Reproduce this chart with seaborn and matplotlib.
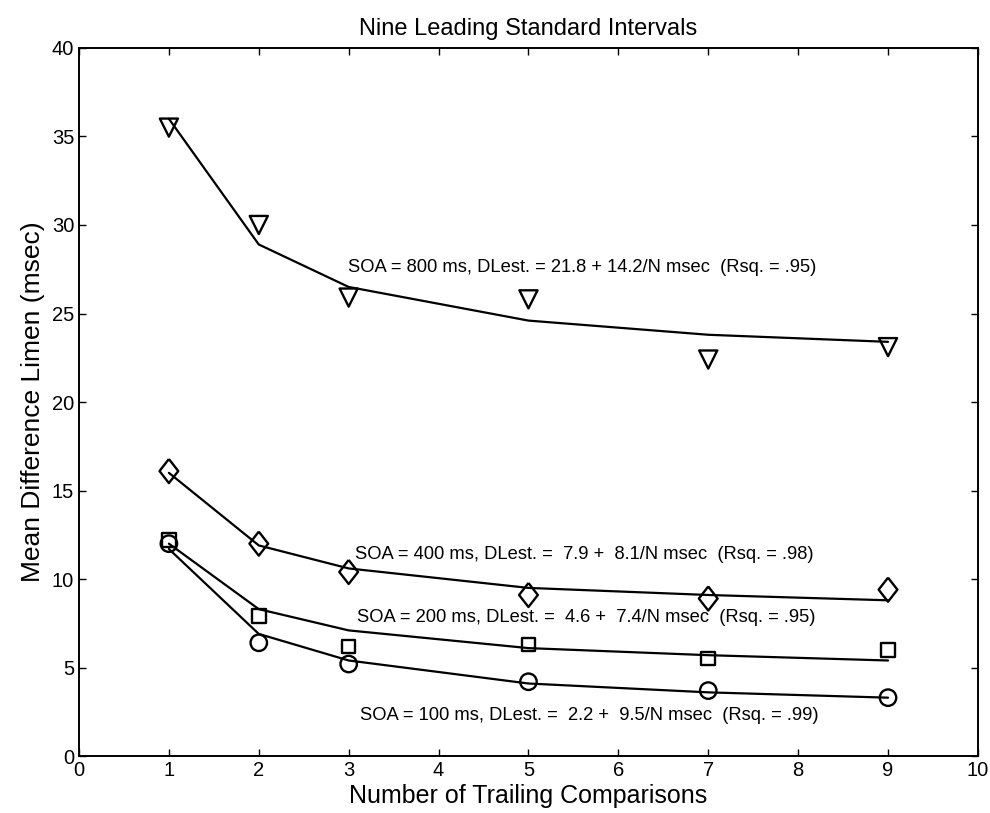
import numpy as np
import pandas as pd
import seaborn as sns
import matplotlib.pyplot as plt

# Number of trailing comparisons
N = [1, 2, 3, 5, 7, 9]

dl_800 = [35.5, 30.0, 25.9, 25.8, 22.4, 23.1]
dl_400 = [16.1, 12.0, 10.4, 9.1, 8.9, 9.4]
dl_200 = [12.2, 7.9, 6.2, 6.3, 5.5, 6.0]
dl_100 = [12.0, 6.4, 5.2, 4.2, 3.7, 3.3]

# fitted curves (a + b/N), as drawn
fit_800 = [36.0, 28.9, 26.5, 24.6, 23.8, 23.4]
fit_400 = [16.0, 11.9, 10.6, 9.5, 9.1, 8.8]
fit_200 = [12.0, 8.3, 7.1, 6.1, 5.7, 5.4]
fit_100 = [11.7, 6.9, 5.4, 4.1, 3.6, 3.3]

labels = [
    "SOA = 800 ms, DLest. = 21.8 + 14.2/N msec  (Rsq. = .95)",
    "SOA = 400 ms, DLest. =  7.9 +  8.1/N msec  (Rsq. = .98)",
    "SOA = 200 ms, DLest. =  4.6 +  7.4/N msec  (Rsq. = .95)",
    "SOA = 100 ms, DLest. =  2.2 +  9.5/N msec  (Rsq. = .99)",
]
label_x = [2.99, 3.07, 3.09, 3.13]
label_y = [27.6, 11.4, 7.85, 2.3]

sns.set_style("ticks", {"text.color": "black", "axes.labelcolor": "black",
                        "xtick.color": "black", "ytick.color": "black"})
plt.rcParams['font.family'] = ['Liberation Sans', 'DejaVu Sans']

fig = plt.figure(figsize=(9.9, 8.13), dpi=100)
ax = fig.add_axes([0.0798, 0.070, 0.908, 0.871])

# slightly tall diamond, like the original
tall_diamond = [(0, 1), (0.78, 0), (0, -1), (-0.78, 0), (0, 1)]

series = [(dl_800, fit_800, "v", 170), (dl_400, fit_400, tall_diamond, 300),
          (dl_200, fit_200, "s", 95), (dl_100, fit_100, "o", 140)]

for dl, fit, mk, sz in series:
    df = pd.DataFrame({"N": N, "dl": dl, "fit": fit})
    sns.lineplot(data=df, x="N", y="fit", color="black", lw=1.6, ax=ax)
    sns.scatterplot(data=df, x="N", y="dl", marker=mk, s=sz, facecolor="none",
                    edgecolor="black", linewidth=1.7, ax=ax, zorder=3)

for lab, lx, ly in zip(labels, label_x, label_y):
    ax.text(lx, ly, lab, fontsize=13.2, va="center", ha="left", color="black")

ax.set_xlim(0, 10)
ax.set_ylim(0, 40)
ax.set_xticks(range(0, 11))
ax.set_yticks(range(0, 41, 5))
ax.tick_params(direction="in", top=True, right=True, labelsize=14.5, length=5,
               width=1, colors="black")
for sp in ax.spines.values():
    sp.set_linewidth(1.4)
    sp.set_color("black")
ax.set_xlabel("Number of Trailing Comparisons", fontsize=18, labelpad=3, color="black")
ax.set_ylabel("Mean Difference Limen (msec)", fontsize=19, labelpad=5, color="black")
ax.set_title("Nine Leading Standard Intervals", fontsize=17, pad=9, color="black")

fig.savefig("out.png", dpi=100)
